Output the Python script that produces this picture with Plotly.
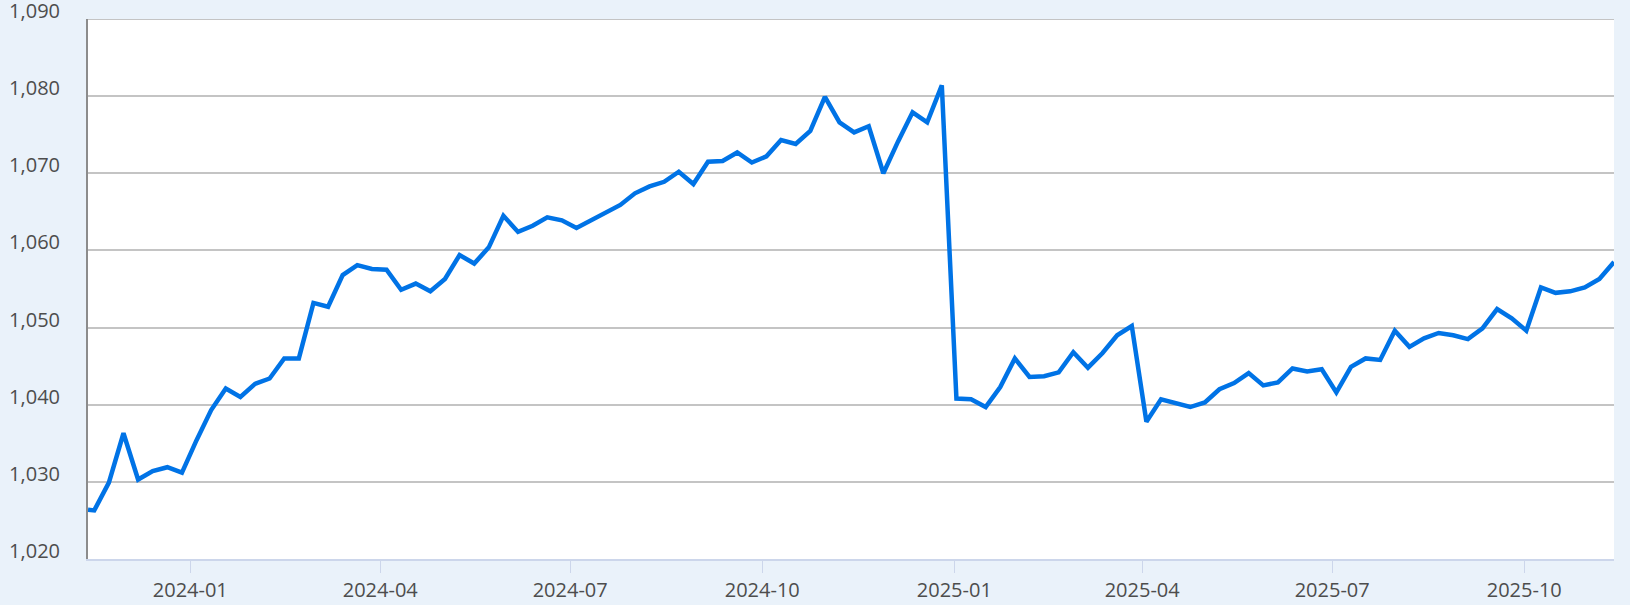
import plotly.graph_objects as go
import pandas as pd

# weekly readings (first one is a few days before the weekly run)
first_date = "2023-11-13"
weekly_start = "2023-11-16"
weekly_end = "2025-11-13"

values = [
    1026.4, 1026.3, 1029.9, 1036.3, 1030.3, 1031.4, 1031.9, 1031.2,
    1035.4, 1039.3, 1042.1, 1041.0, 1042.7, 1043.4, 1046.0, 1046.0,
    1053.2, 1052.7, 1056.8, 1058.1, 1057.6, 1057.5, 1054.9, 1055.7,
    1054.7, 1056.3, 1059.4, 1058.3, 1060.4, 1064.5, 1062.4, 1063.2,
    1064.3, 1063.9, 1062.9, 1063.9, 1065.0, 1065.9, 1067.4, 1068.3,
    1068.9, 1070.2, 1068.6, 1071.5, 1071.6, 1072.7, 1071.4, 1072.2,
    1074.3, 1073.8, 1075.5, 1079.9, 1076.6, 1075.3, 1076.1, 1070.0,
    1074.1, 1077.9, 1076.6, 1081.4,
    1040.8, 1040.7, 1039.7, 1042.3, 1046.0, 1043.6, 1043.7, 1044.2,
    1046.8, 1044.8, 1046.7, 1049.0, 1050.2, 1037.8, 1040.7, 1040.2,
    1039.7, 1040.3, 1042.0, 1042.8, 1044.1, 1042.5, 1042.9, 1044.7,
    1044.3, 1044.6, 1041.6, 1044.9, 1046.0, 1045.8, 1049.6, 1047.5,
    1048.6, 1049.3, 1049.0, 1048.5, 1049.9, 1052.4, 1051.2, 1049.6,
    1055.2, 1054.5, 1054.7, 1055.2, 1056.3, 1058.5,
]

y_min, y_max = 1020, 1090

dates = [pd.Timestamp(first_date)] + list(pd.date_range(weekly_start, weekly_end, freq="7D"))

fig = go.Figure()
fig.add_trace(go.Scatter(
    x=dates,
    y=values,
    mode="lines",
    line=dict(color="#0073E6", width=4.5),
    showlegend=False,
))

# top gridline sits on the plot edge, plotly leaves it out
fig.add_shape(type="line", xref="paper", yref="y", x0=0, x1=1, y0=y_max, y1=y_max,
              line=dict(color="#C4C4C4", width=2), layer="below")

fig.update_layout(
    width=1630,
    height=605,
    paper_bgcolor="#EAF2FA",
    plot_bgcolor="white",
    margin=dict(l=88, r=16, t=19, b=46, autoexpand=False),
    font=dict(family="Open Sans", size=20, color="#4d4d4d"),
)

fig.update_xaxes(
    range=[dates[0], dates[-1]],
    dtick="M3",
    tick0="2024-01-01",
    tickformat="%Y-%m",
    showgrid=False,
    showline=True,
    linecolor="#CCD6EB",
    linewidth=2,
    ticks="outside",
    ticklen=12,
    tickcolor="#CCD6EB",
    tickwidth=1,
    automargin=False,
)

fig.update_yaxes(
    range=[y_min, y_max],
    dtick=10,
    tickformat=",d",
    showgrid=True,
    gridcolor="#C4C4C4",
    gridwidth=2,
    showline=True,
    linecolor="#8C8C8C",
    linewidth=2,
    zeroline=False,
    ticks="",
    ticklabelstandoff=22,
    ticklabelshift=-8,
    ticklabeloverflow="allow",
    automargin=False,
)

# page body margin off so the chart fills the window
fig.write_html("out.html", config={"displayModeBar": False},
               post_script="document.body.style.margin='0';document.body.style.background='#EAF2FA';")
